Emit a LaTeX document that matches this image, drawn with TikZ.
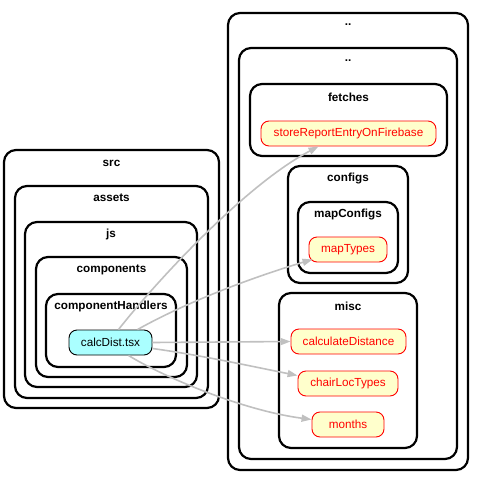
\documentclass[tikz,border=0pt]{standalone}
\usepackage{fontspec}
\setmainfont{Liberation Sans}
\usetikzlibrary{arrows.meta}
\definecolor{nodefill}{HTML}{FFFFCC}
\definecolor{srcfill}{HTML}{AAFFFF}
\definecolor{edgegray}{HTML}{C0C0C0}
\begin{document}
\begin{tikzpicture}[x=1pt,y=-1pt,
  cluster/.style={draw=black,line width=2.2pt,rounded corners=12pt,anchor=north west,inner sep=0pt,outer sep=0pt},
  clabel/.style={font=\fontsize{11.7}{14}\selectfont\bfseries,inner sep=0pt},
  file/.style={draw=red,fill=nodefill,text=red,rounded corners=8pt,line width=0.9pt,minimum height=25pt,inner sep=0pt,font=\fontsize{11.7}{14}\selectfont},
  srcfile/.style={draw=black,fill=srcfill,text=black,rounded corners=8pt,line width=0.9pt,minimum height=25pt,inner sep=0pt,font=\fontsize{11.7}{14}\selectfont},
  edge/.style={draw=edgegray,line width=1.6pt,-{Triangle[length=10pt,width=7pt,fill=edgegray]}}
]
\useasboundingbox (0,0) rectangle (479,483);
% left clusters
\node[cluster,minimum width=215pt,minimum height=258pt] (src) at (4,150) {};
\node[clabel] at ([yshift=-13pt]src.north) {src};
\node[cluster,minimum width=193pt,minimum height=212pt] (assets) at (15,186) {};
\node[clabel] at ([yshift=-12pt]assets.north) {assets};
\node[cluster,minimum width=172pt,minimum height=165pt] (js) at (25,222) {};
\node[clabel] at ([yshift=-12pt]js.north) {js};
\node[cluster,minimum width=151pt,minimum height=120pt] (components) at (36,257) {};
\node[clabel] at ([yshift=-13pt]components.north) {components};
\node[cluster,minimum width=130pt,minimum height=73pt] (handlers) at (46,294) {};
\node[clabel] at ([yshift=-12pt]handlers.north) {componentHandlers};
\node[srcfile,minimum width=83pt] (calc) at (110.5,342.5) {calcDist.tsx};
% right clusters
\node[cluster,minimum width=240pt,minimum height=457pt] (dd1) at (228,13) {};
\node[clabel] at ([yshift=-12pt]dd1.north) {..};
\node[cluster,minimum width=218pt,minimum height=411pt] (dd2) at (239,48) {};
\node[clabel] at ([yshift=-13pt]dd2.north) {..};
\node[cluster,minimum width=197pt,minimum height=72pt] (fetches) at (250,84) {};
\node[clabel] at ([yshift=-13pt]fetches.north) {fetches};
\node[file,minimum width=175pt] (store) at (348.5,133.5) {storeReportEntryOnFirebase};
\node[cluster,minimum width=120pt,minimum height=117pt] (configs) at (288,166) {};
\node[clabel] at ([yshift=-12pt]configs.north) {configs};
\node[cluster,minimum width=100pt,minimum height=71pt] (mapconfigs) at (298,202) {};
\node[clabel] at ([yshift=-12pt]mapconfigs.north) {mapConfigs};
\node[file,minimum width=78pt] (maptypes) at (348,249.5) {mapTypes};
\node[cluster,minimum width=138pt,minimum height=155pt] (misc) at (279,293) {};
\node[clabel] at ([yshift=-13pt]misc.north) {misc};
\node[file,minimum width=115pt] (calcdist) at (348.5,341.5) {calculateDistance};
\node[file,minimum width=100pt] (chair) at (348,383.5) {chairLocTypes};
\node[file,minimum width=72pt] (months) at (348,424.5) {months};
% edges
\draw[edge] ([xshift=8pt]calc.north) .. controls (155,283) and (245,185) .. ([xshift=-30pt]store.south);
\draw[edge] ([xshift=27pt]calc.north) .. controls (190,300) and (260,275) .. ([xshift=4pt,yshift=3pt]maptypes.south west);
\draw[edge] (calc.east) -- (calcdist.west);
\draw[edge] ([yshift=-6pt]calc.east) .. controls (200,355) and (250,366) .. ([yshift=8pt]chair.west);
\draw[edge] ([xshift=18pt]calc.south) .. controls (160,375) and (240,410) .. ([yshift=5pt]months.west);
\end{tikzpicture}
\end{document}
